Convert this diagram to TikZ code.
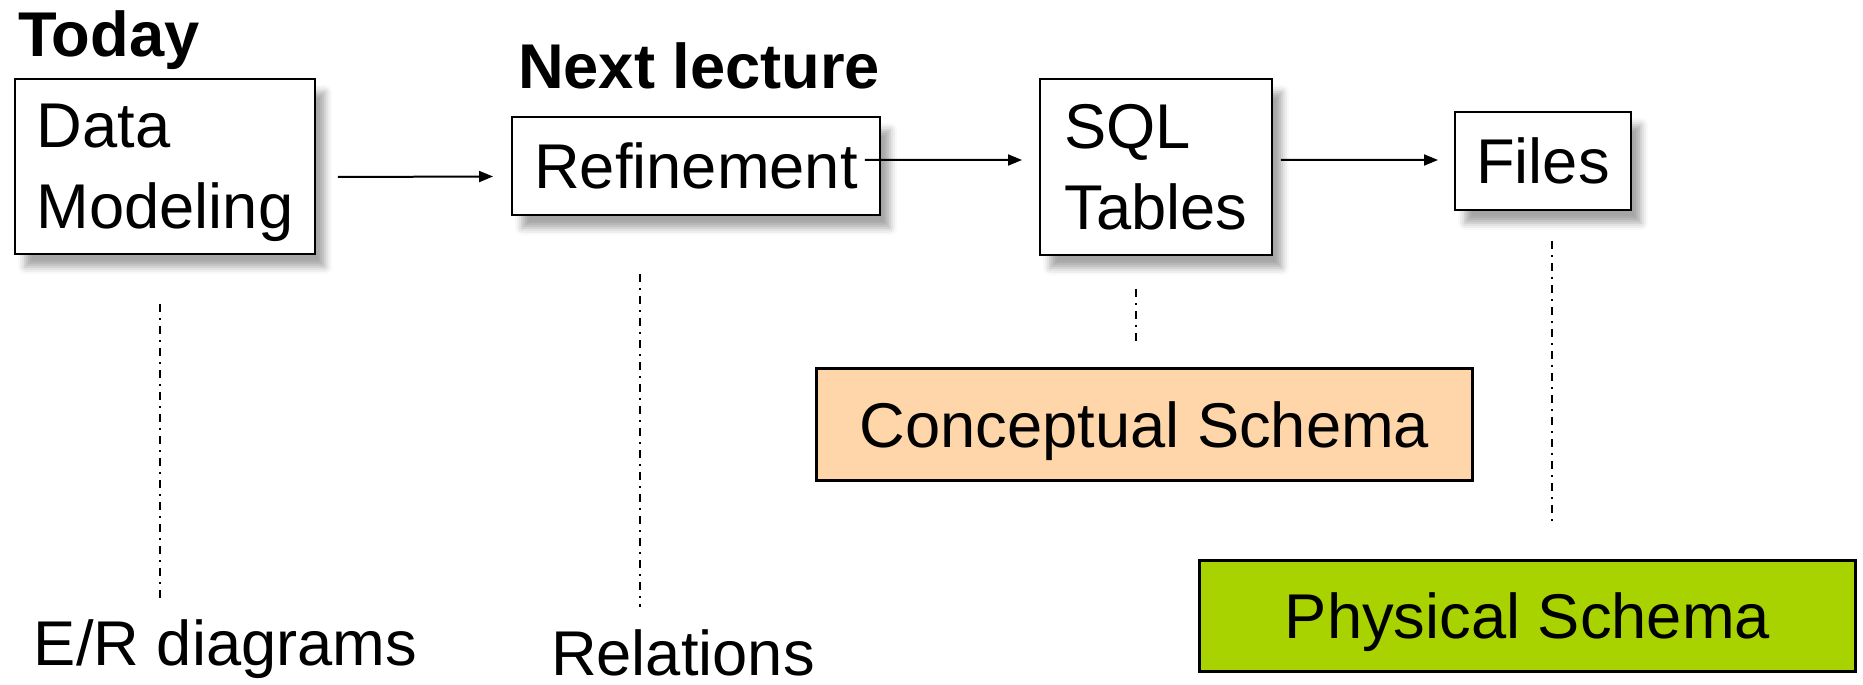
\documentclass[tikz,border=0pt]{standalone}
\usepackage{fontspec}
\setmainfont{Liberation Sans}
\usepackage{xcolor}
\usetikzlibrary{arrows.meta,shadows.blur,positioning}
\definecolor{peach}{HTML}{FFD6A9}
\definecolor{lime}{HTML}{A8D300}

\tikzset{
  box/.style={draw,line width=0.04cm,fill=white,inner sep=0pt,align=left,text depth=0pt,
    blur shadow={shadow xshift=0.2cm,shadow yshift=-0.26cm,shadow blur radius=0.14cm,shadow opacity=35}},
  schema/.style={draw,line width=0.06cm,inner sep=0pt,text depth=0pt},
  tag/.style={inner sep=0pt,anchor=base west},
  guide/.style={-,line width=0.035cm,dash pattern=on 0.16cm off 0.12cm on 0.04cm off 0.12cm}
}

\begin{document}
\begin{tikzpicture}[->,>={Triangle[length=0.28cm,width=0.22cm]},line width=0.04cm,x=0.02cm,y=-0.02cm,font=\fontsize{36}{46}\selectfont]
  \useasboundingbox (0,0) rectangle (1863,685);

  \node [tag] (today) at (17,57) {\bfseries Today};
  \node [tag] (next) at (517,89) {\bfseries Next lecture};

  \node [box,minimum width=6cm,minimum height=3.5cm] (dm) at (165,166.5) {Data\\Modeling};
  \node [box,minimum width=7.36cm,minimum height=1.96cm] (ref) at (696,166) {Refinement};
  \node [box,minimum width=4.64cm,minimum height=3.52cm] (sql) at (1156,167) {SQL\\Tables};
  \node [box,minimum width=3.52cm,minimum height=1.96cm] (files) at (1543,161) {Files};

  \node [schema,fill=peach,minimum width=13.14cm,minimum height=2.26cm] (cs) at (1144.5,424.5) {Conceptual Schema};
  \node [schema,fill=lime,minimum width=13.14cm,minimum height=2.24cm] (ps) at (1527.5,616) {Physical Schema};

  \node [tag] (er) at (33,665) {E/R diagrams};
  \node [tag] (rel) at (550,675) {Relations};

  \path ([xshift=0.44cm,yshift=-0.21cm]dm.east) edge ([xshift=-0.36cm,yshift=-0.21cm]ref.west);
  \path ([xshift=-0.32cm,yshift=0.12cm]ref.east) edge ([xshift=-0.34cm,yshift=0.14cm]sql.west);
  \path ([xshift=0.16cm,yshift=0.14cm]sql.east) edge ([xshift=-0.32cm,yshift=0.02cm]files.west);

  %\draw [guide] (dm.south) -- (er.north);
  \coordinate (g1) at ([xshift=-0.1cm,yshift=-0.98cm]dm.south);
  \coordinate (g2) at ([xshift=-1.12cm,yshift=-1.16cm]ref.south);
  \coordinate (g3) at ([xshift=-0.4cm,yshift=-0.66cm]sql.south);
  \coordinate (g4) at ([xshift=0.18cm,yshift=-0.6cm]files.south);
  \draw [guide] (g1) -- ([yshift=0.3cm]g1 |- er.north);
  \draw [guide] (g2) -- ([yshift=0.42cm]g2 |- rel.north);
  \draw [guide] (g3) -- ([yshift=0.42cm]g3 |- cs.north);
  \draw [guide] (g4) -- ([yshift=0.66cm]g4 |- ps.north);
\end{tikzpicture}
\end{document}
